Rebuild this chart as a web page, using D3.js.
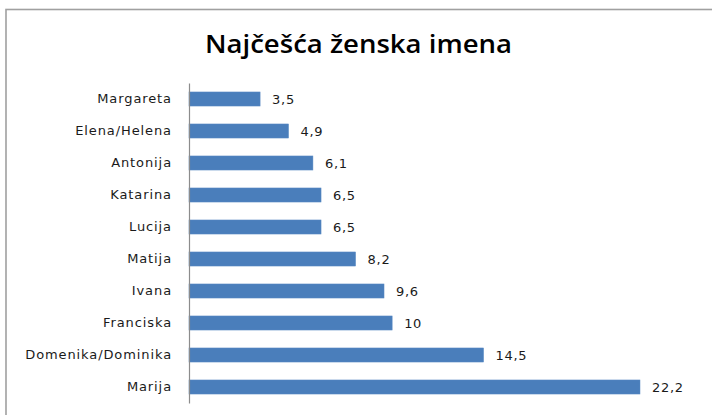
<!DOCTYPE html>
<html>
<head>
<meta charset="utf-8">
<script src="https://cdn.jsdelivr.net/npm/d3@7"></script>
<style>
  body { margin: 0; background: #fff; }
  svg { display: block; }
</style>
</head>
<body>
<svg width="712" height="415"></svg>
<script>
// data, top to bottom
const names = ["Margareta", "Elena/Helena", "Antonija", "Katarina", "Lucija", "Matija", "Ivana", "Franciska", "Domenika/Dominika", "Marija"];
const values = [3.5, 4.9, 6.1, 6.5, 6.5, 8.2, 9.6, 10, 14.5, 22.2];
const valueLabels = ["3,5", "4,9", "6,1", "6,5", "6,5", "8,2", "9,6", "10", "14,5", "22,2"];
const titleText = "Najčešća ženska imena";

const svg = d3.select("svg");
let w = 712, h = 415;
let margin = {top: 83, left: 189, bottom: 12};

// chart frame (only top and left edges are in view)
svg.append("rect")
  .attr("x", 6).attr("y", 9.5)
  .attr("width", 720).attr("height", 420)
  .attr("fill", "none")
  .attr("stroke", "#a0a0a0")
  .attr("stroke-width", 1.6);

svg.append("text")
  .attr("x", 205).attr("y", 53)
  .attr("textLength", 307)
  .attr("lengthAdjust", "spacingAndGlyphs")
  .style("font-family", "'Open Sans', sans-serif")
  .style("font-size", "26px")
  .style("font-weight", 600)
  .attr("fill", "#000")
  .text(titleText);

const xScale = d3.scaleLinear()
  .domain([0, 22.2])
  .range([margin.left, 640]);

const yScale = d3.scaleBand()
  .domain(names)
  .range([margin.top, 403])
  .paddingInner(0.56)
  .paddingOuter(0.28);

const g = svg.append("g");
g.selectAll("rect")
  .data(values)
  .enter()
  .append("rect")
  .attr("x", xScale(0))
  .attr("y", (d, i) => yScale(names[i]))
  .attr("width", d => xScale(d) - xScale(0))
  .attr("height", yScale.bandwidth())
  .attr("fill", "#4a7ebb")
  .attr("stroke", "#5b8cc4")
  .attr("stroke-width", 0.5);

g.selectAll("text.val")
  .data(values)
  .enter()
  .append("text")
  .attr("class", "val")
  .attr("x", d => xScale(d) + 12)
  .attr("y", (d, i) => yScale(names[i]) + yScale.bandwidth() / 2)
  .attr("dy", "0.38em")
  .style("font-family", "'DejaVu Sans', sans-serif")
  .style("font-size", "13px")
  .style("letter-spacing", "0.7px")
  .attr("fill", "#1a1a1a")
  .text((d, i) => valueLabels[i]);

const yAxis = d3.axisLeft(yScale).tickSize(0).tickPadding(17);
const ya = svg.append("g")
  .attr("transform", "translate(" + margin.left + ",0)")
  .call(yAxis);
ya.select(".domain").attr("stroke", "#8c8c8c").attr("stroke-width", 1.2);
ya.selectAll("text")
  .style("font-family", "'DejaVu Sans', sans-serif")
  .style("font-size", "13px")
  .style("letter-spacing", "0.9px")
  .attr("fill", "#1a1a1a");
</script>
</body>
</html>
